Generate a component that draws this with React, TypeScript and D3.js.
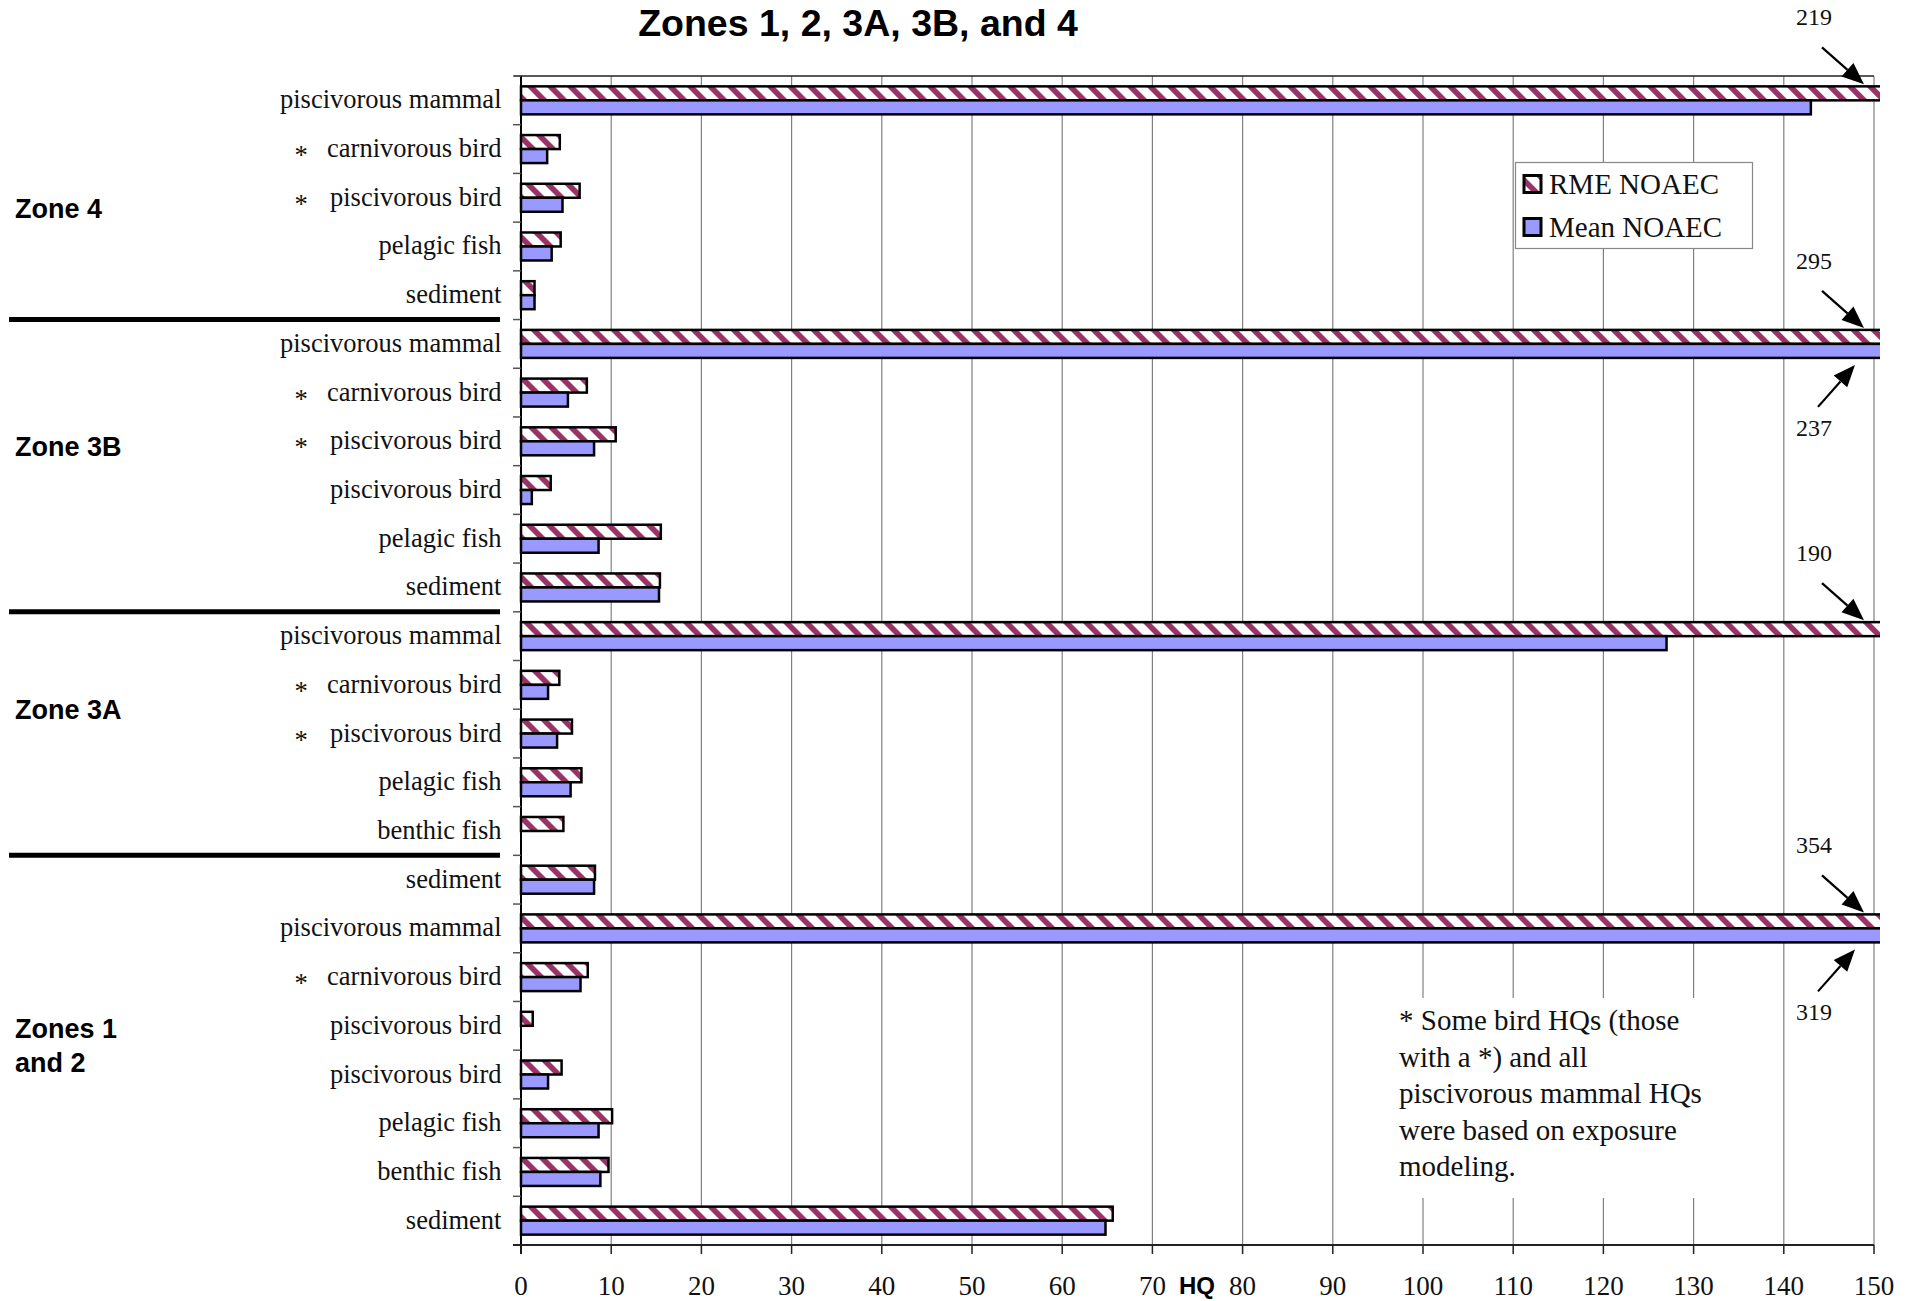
import React from 'react';
import * as d3 from 'd3';

// ---------- DATA ----------
const categories: string[] = [
  'piscivorous mammal', 'carnivorous bird', 'piscivorous bird', 'pelagic fish', 'sediment',
  'piscivorous mammal', 'carnivorous bird', 'piscivorous bird', 'piscivorous bird', 'pelagic fish', 'sediment',
  'piscivorous mammal', 'carnivorous bird', 'piscivorous bird', 'pelagic fish', 'benthic fish',
  'sediment', 'piscivorous mammal', 'carnivorous bird', 'piscivorous bird', 'piscivorous bird', 'pelagic fish', 'benthic fish', 'sediment',
];
const starred: boolean[] = [
  false, true, true, false, false,
  false, true, true, false, false, false,
  false, true, true, false, false,
  false, false, true, false, false, false, false, false,
];
const rmeNOAEC: (number | null)[] = [
  219, 4.3, 6.5, 4.4, 1.5,
  295, 7.3, 10.5, 3.3, 15.5, 15.4,
  190, 4.25, 5.65, 6.7, 4.7,
  8.2, 354, 7.4, 1.3, 4.5, 10.1, 9.7, 65.6,
];
const meanNOAEC: (number | null)[] = [
  143.0, 2.9, 4.6, 3.4, 1.5,
  237, 5.2, 8.1, 1.2, 8.6, 15.3,
  127.0, 3.0, 4.0, 5.5, null,
  8.1, 319, 6.6, null, 3.0, 8.6, 8.8, 64.8,
];
const seriesNames: string[] = ['RME NOAEC', 'Mean NOAEC'];
const xTickValues: number[] = [0, 10, 20, 30, 40, 50, 60, 70, 80, 90, 100, 110, 120, 130, 140, 150];
const zoneNames: string[][] = [['Zone 4'], ['Zone 3B'], ['Zone 3A'], ['Zones 1', 'and 2']];
const separatorAfter: number[] = [5, 11, 16];
const footnoteLines: string[] = [
  '* Some bird HQs (those',
  'with a *) and all',
  'piscivorous mammal HQs',
  'were based on exposure',
  'modeling.',
];
const title = 'Zones 1, 2, 3A, 3B, and 4';
const xAxisTitle = 'HQ';

// ---------- LAYOUT ----------
const W = 1923;
const H = 1301;
const PL = 521;
const PR = 1874;
const PT = 76;
const PB = 1245;
const zoneLabelBand = [2.7, 7.6, 13.0, 19.9];
const SERIF = '"Liberation Serif", "Times New Roman", serif';
const SANS = '"Liberation Sans", Arial, sans-serif';
const MAROON = '#993366';
const BLUE = '#9999ff';

export default function App() {
  const x = d3.scaleLinear().domain([0, 150]).range([PL, PR]);
  const y = d3.scaleBand<number>().domain(d3.range(categories.length)).range([PT, PB]);
  const bw = y.bandwidth();
  const barH = 14;
  const yc = (i: number) => (y(i) as number) + bw / 2;
  const yAt = (pos: number) => PT + pos * bw;

  const annotations: { i: number; v: number; above: boolean }[] = [];
  rmeNOAEC.forEach((v, i) => { if (v != null && v > 150) annotations.push({ i, v, above: true }); });
  meanNOAEC.forEach((v, i) => { if (v != null && v > 150) annotations.push({ i, v, above: false }); });

  const arrow = (x1: number, y1: number, x2: number, y2: number, key: string) => {
    const dx = x2 - x1, dy = y2 - y1;
    const len = Math.sqrt(dx * dx + dy * dy);
    const ux = dx / len, uy = dy / len;
    const hl = 22, hw = 9;
    const bx = x2 - ux * hl, by = y2 - uy * hl;
    const pts = [
      [x2, y2],
      [bx - uy * hw, by + ux * hw],
      [bx + uy * hw, by - ux * hw],
    ].map(p => p.join(',')).join(' ');
    return (
      <g key={key}>
        <line x1={x1} y1={y1} x2={bx} y2={by} stroke="#000" strokeWidth={2.2} />
        <polygon points={pts} fill="#000" />
      </g>
    );
  };

  const P = 14.14;

  return (
    <svg width={W} height={H} style={{ position: 'absolute', left: 0, top: 0, display: 'block', background: '#fff' }}>
      <defs>
        <pattern id="hatch" patternUnits="userSpaceOnUse" width={P} height={P} patternTransform="rotate(-45)">
          <rect width={P} height={P} fill="#fff" />
          <rect width={5.6} height={P} fill={MAROON} />
        </pattern>
        <clipPath id="plotClip">
          <rect x={0} y={0} width={PR + 6} height={H} />
        </clipPath>
      </defs>
      <rect x={0} y={0} width={W} height={H} fill="#fff" />

      {/* Title */}
      <text x={858} y={36} textAnchor="middle" fontFamily={SANS} fontWeight="bold" fontSize={37.5}>{title}</text>

      {/* gridlines */}
      {xTickValues.filter(t => t > 0).map(t => (
        <line key={'g' + t} x1={x(t)} x2={x(t)} y1={PT} y2={PB} stroke="#808080" strokeWidth={1.2} />
      ))}
      <line x1={PL - 7} x2={PR} y1={PT} y2={PT} stroke="#222" strokeWidth={1.5} />

      {/* footnote */}
      <rect x={1388} y={998} width={372} height={200} fill="#fff" />
      {footnoteLines.map((t, k) => (
        <text key={'f' + k} x={1399} y={1030 + k * 36.5} fontFamily={SERIF} fontSize={29} fill="#111">{t}</text>
      ))}

      {/* legend */}
      <rect x={1515.5} y={162.5} width={237} height={86} fill="#fff" stroke="#888" strokeWidth={1.2} />
      <rect x={1524} y={175.5} width={17} height={17} fill="url(#hatch)" stroke="#000" strokeWidth={3} />
      <text x={1549} y={193.5} fontFamily={SERIF} fontSize={29} fill="#111">{seriesNames[0]}</text>
      <rect x={1524} y={218.5} width={17} height={17} fill={BLUE} stroke="#000" strokeWidth={3} />
      <text x={1549} y={236.5} fontFamily={SERIF} fontSize={29} fill="#111">{seriesNames[1]}</text>

      {/* bars */}
      <g clipPath="url(#plotClip)">
        {rmeNOAEC.map((v, i) => v == null ? null : (
          <rect key={'r' + i} x={x(0)} y={yc(i) - barH} width={x(v) - x(0)} height={barH}
            fill="url(#hatch)" stroke="#000" strokeWidth={2.5} />
        ))}
        {meanNOAEC.map((v, i) => v == null ? null : (
          <rect key={'m' + i} x={x(0)} y={yc(i)} width={x(v) - x(0)} height={barH}
            fill={BLUE} stroke="#000" strokeWidth={2.5} />
        ))}
      </g>

      {/* y axis */}
      <line x1={PL} x2={PL} y1={PT} y2={PB + 9} stroke="#000" strokeWidth={2} />
      {d3.range(categories.length + 1).map(k => (
        <line key={'yt' + k} x1={PL - 8} x2={PL} y1={PT + k * bw} y2={PT + k * bw} stroke="#555" strokeWidth={1.5} />
      ))}
      {/* x axis */}
      <line x1={PL - 8} x2={PR} y1={PB} y2={PB} stroke="#222" strokeWidth={2} />
      {xTickValues.map(t => (
        <g key={'xt' + t}>
          <line x1={x(t)} x2={x(t)} y1={PB} y2={PB + 9} stroke="#222" strokeWidth={1.5} />
          <text x={x(t)} y={1295} textAnchor="middle" fontFamily={SERIF} fontSize={27} fill="#111">{t}</text>
        </g>
      ))}
      <text x={1197} y={1294} textAnchor="middle" fontFamily={SANS} fontWeight="bold" fontSize={24}>{xAxisTitle}</text>

      {/* category labels */}
      {categories.map((c, i) => (
        <g key={'c' + i}>
          <text x={501.5} y={yc(i) + 8} textAnchor="end" fontFamily={SERIF} fontSize={26.5} fill="#111">{c}</text>
          {starred[i] && (
            <text x={301} y={yc(i) + 15} textAnchor="middle" fontFamily={SERIF} fontSize={26.5} fill="#111">*</text>
          )}
        </g>
      ))}

      {/* zone labels */}
      {zoneNames.map((lines, z) => (
        <g key={'z' + z}>
          {lines.map((t, k) => (
            <text key={k} x={15} y={yAt(zoneLabelBand[z]) + 10 - (lines.length - 1) * 17 + k * 34}
              fontFamily={SANS} fontWeight="bold" fontSize={27}>{t}</text>
          ))}
        </g>
      ))}

      {/* separators */}
      {separatorAfter.map(k => (
        <line key={'s' + k} x1={9} x2={500} y1={PT + k * bw} y2={PT + k * bw} stroke="#000" strokeWidth={5} />
      ))}

      {/* off-scale annotations */}
      {annotations.map(a => {
        const c = yc(a.i);
        return (
          <g key={'a' + a.i + (a.above ? 'r' : 'm')}>
            <text x={1814} y={a.above ? c - 83 + 8 : c + 84 + 8} textAnchor="middle" fontFamily={SERIF} fontSize={24} fill="#111">{a.v}</text>
            {a.above
              ? arrow(1822, c - 53, 1864, c - 16, 'ar')
              : arrow(1818, c + 63, 1855, c + 21, 'am')}
          </g>
        );
      })}
    </svg>
  );
}
